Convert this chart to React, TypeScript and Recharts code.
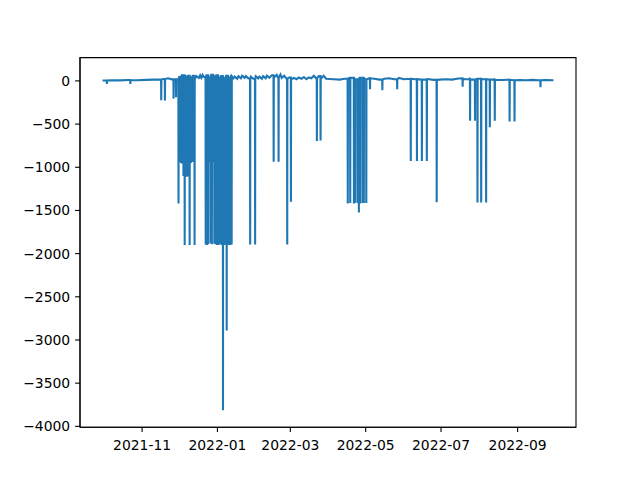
import { LineChart, Line, XAxis, YAxis, ReferenceArea } from "recharts";

// slow-moving level of the signal, sampled every few days (denser in winter where it is noisy)
const baseDates = [
  "2021-09-30", "2021-10-07", "2021-10-14", "2021-10-21", "2021-10-28",
  "2021-11-04", "2021-11-11", "2021-11-18", "2021-11-22", "2021-11-25",
  "2021-12-01", "2021-12-03", "2021-12-06", "2021-12-08", "2021-12-10",
  "2021-12-12", "2021-12-14", "2021-12-15", "2021-12-17", "2021-12-18",
  "2021-12-19", "2021-12-20", "2021-12-21", "2021-12-23", "2021-12-25",
  "2021-12-27", "2021-12-29", "2021-12-31", "2022-01-02", "2022-01-04",
  "2022-01-06", "2022-01-08", "2022-01-10", "2022-01-12", "2022-01-14",
  "2022-01-15", "2022-01-17", "2022-01-18", "2022-01-20", "2022-01-21",
  "2022-01-23", "2022-01-24", "2022-01-26", "2022-01-28", "2022-01-30",
  "2022-02-01", "2022-02-03", "2022-02-04", "2022-02-06", "2022-02-07",
  "2022-02-09", "2022-02-10", "2022-02-12", "2022-02-14", "2022-02-16",
  "2022-02-18", "2022-02-19", "2022-02-21", "2022-02-22", "2022-02-24",
  "2022-02-26", "2022-02-28", "2022-03-02", "2022-03-04", "2022-03-06",
  "2022-03-08", "2022-03-10", "2022-03-12", "2022-03-14", "2022-03-16",
  "2022-03-18", "2022-03-20", "2022-03-22", "2022-03-24", "2022-03-26",
  "2022-03-28", "2022-03-30", "2022-04-05", "2022-04-10", "2022-04-14",
  "2022-04-18", "2022-04-22", "2022-04-26", "2022-04-30", "2022-05-04",
  "2022-05-08", "2022-05-12", "2022-05-16", "2022-05-20", "2022-05-24",
  "2022-05-28", "2022-06-01", "2022-06-06", "2022-06-10", "2022-06-15",
  "2022-06-20", "2022-06-25", "2022-06-30", "2022-07-05", "2022-07-10",
  "2022-07-15", "2022-07-20", "2022-07-25", "2022-07-30", "2022-08-04",
  "2022-08-09", "2022-08-14", "2022-08-19", "2022-08-24", "2022-08-29",
  "2022-09-03", "2022-09-08", "2022-09-13", "2022-09-18", "2022-09-23",
  "2022-09-30",
];
const baseValues = [
  5, 8, 6, 10, 8,
  12, 15, 22, 30, 18,
  45, 65, 50, 60, 40,
  60, 30, 55, 35, 65,
  35, 70, 45, 65, 40,
  70, 50, 65, 35, 55,
  30, 60, 35, 55, 30,
  50, 25, 55, 30, 60,
  35, 55, 30, 50, 25,
  55, 30, 50, 25, 55,
  30, 60, 35, 65, 40,
  70, 40, 75, 35, 60,
  25, 40, 20, 35, 20,
  40, 25, 45, 20, 40,
  30, 60, 30, 55, 30,
  60, 25, 20, 15, 25,
  35, 20, 35, 20, 30,
  25, 15, 25, 30, 20,
  35, 20, 25, 20, 15,
  22, 12, 15, 20, 15,
  28, 20, 15, 25, 20,
  15, 12, 10, 14, 8,
  10, 8, 12, 7, 9,
  8,
];

// short drops below the level (noon of each day)
const dropDates = [
  "2021-10-03", "2021-10-22", "2021-11-16", "2021-11-19", "2021-11-26",
  "2021-11-28", "2021-11-30", "2021-12-01", "2021-12-02", "2021-12-03",
  "2021-12-04", "2021-12-05", "2021-12-06", "2021-12-07", "2021-12-08",
  "2021-12-09", "2021-12-10", "2021-12-11", "2021-12-12", "2021-12-13",
  "2021-12-22", "2021-12-23", "2021-12-24", "2021-12-25", "2021-12-26",
  "2021-12-27", "2021-12-28", "2021-12-29", "2021-12-30", "2021-12-31",
  "2022-01-01", "2022-01-02", "2022-01-03", "2022-01-04", "2022-01-05",
  "2022-01-06", "2022-01-07", "2022-01-08", "2022-01-09", "2022-01-10",
  "2022-01-11", "2022-01-12", "2022-01-27", "2022-01-31", "2022-02-15",
  "2022-02-19", "2022-02-26", "2022-03-01", "2022-03-22", "2022-03-25",
  "2022-04-16", "2022-04-18", "2022-04-21", "2022-04-22", "2022-04-24",
  "2022-04-25", "2022-04-26", "2022-04-28", "2022-04-29", "2022-05-01",
  "2022-05-04", "2022-05-14", "2022-05-26", "2022-06-06", "2022-06-11",
  "2022-06-15", "2022-06-19", "2022-06-27", "2022-07-18", "2022-07-24",
  "2022-07-28", "2022-07-30", "2022-08-02", "2022-08-06", "2022-08-09",
  "2022-08-13", "2022-08-25", "2022-08-29", "2022-09-19",
];
const dropValues = [
  -35, -35, -225, -228, -205,
  -190, -1420, -940, -950, -960,
  -1100, -1900, -1110, -1110, -1100,
  -1900, -950, -940, -935, -1900,
  -1895, -1900, -1890, -940, -1880,
  -1890, -940, -1885, -1890, -1900,
  -1900, -1895, -1890, -1900, -3815,
  -1900, -1890, -2890, -1900, -1900,
  -1900, -1895, -1895, -1895, -936,
  -936, -1895, -1400, -696, -690,
  -1420, -1415, -1420, -1410, -1415,
  -1523, -1420, -1415, -1415, -1415,
  -96, -107, -96, -928, -928,
  -928, -928, -1405, -66, -460,
  -460, -1407, -1407, -1407, -537,
  -460, -470, -470, -73,
];

const xTickDates = ["2021-11-01", "2022-01-01", "2022-03-01", "2022-05-01", "2022-07-01", "2022-09-01"];
const yTicks = [0, -500, -1000, -1500, -2000, -2500, -3000, -3500, -4000];

const HOUR = 3600000;
const ts = (d: string) => Date.parse(d + "T00:00:00Z");

function buildRows() {
  const rows = baseDates.map((d, i) => ({ t: ts(d), v: baseValues[i] }));
  dropDates.forEach((d, i) => {
    const t = ts(d) + 12 * HOUR;
    // line sits at the last known level before and after the drop
    let level = baseValues[0];
    for (let j = 0; j < baseDates.length && ts(baseDates[j]) <= t; j++) level = baseValues[j];
    rows.push({ t: t - 3 * HOUR, v: level }, { t, v: dropValues[i] }, { t: t + 3 * HOUR, v: level });
  });
  return rows.sort((a, b) => a.t - b.t);
}

const rows = buildRows();
const first = ts(baseDates[0]);
const last = ts(baseDates[baseDates.length - 1]);
const pad = (last - first) * 0.05;
const xDomain = [first - pad, last + pad];
const yDomain = [-4010, 270];

const font = { fontFamily: "DejaVu Sans", fontSize: 13.9, fill: "#000" };
const fmtX = (t: number) => new Date(t).toISOString().slice(0, 7);
const fmtY = (v: number) => (v < 0 ? `\u2212${Math.abs(v)}` : `${v}`);

export default function App() {
  return (
    <div style={{ position: "absolute", left: 0, top: 0, width: 640, height: 480, background: "#fff" }}>
      <LineChart
        width={640}
        height={480}
        data={rows}
        margin={{ top: 57.6, right: 64, bottom: 0, left: 0 }}
      >
        <XAxis
          dataKey="t"
          type="number"
          domain={xDomain}
          allowDataOverflow
          ticks={xTickDates.map(ts)}
          tickFormatter={fmtX}
          height={52.8}
          tickSize={4.9}
          tickMargin={8}
          tick={font}
          axisLine={{ stroke: "#000", strokeWidth: 1.1 }}
          tickLine={{ stroke: "#000", strokeWidth: 1.1 }}
        />
        <YAxis
          type="number"
          domain={yDomain}
          allowDataOverflow
          ticks={yTicks}
          tickFormatter={fmtY}
          width={80}
          tickSize={4.9}
          tickMargin={4.9}
          tick={font}
          axisLine={{ stroke: "#000", strokeWidth: 1.1 }}
          tickLine={{ stroke: "#000", strokeWidth: 1.1 }}
        />
        <Line
          type="linear"
          dataKey="v"
          stroke="#1f77b4"
          strokeWidth={2.1}
          dot={false}
          activeDot={false}
          isAnimationActive={false}
        />
        <ReferenceArea
          x1={xDomain[0]}
          x2={xDomain[1]}
          y1={yDomain[0]}
          y2={yDomain[1]}
          fill="none"
          stroke="#000"
          strokeWidth={1.1}
        />
      </LineChart>
    </div>
  );
}
